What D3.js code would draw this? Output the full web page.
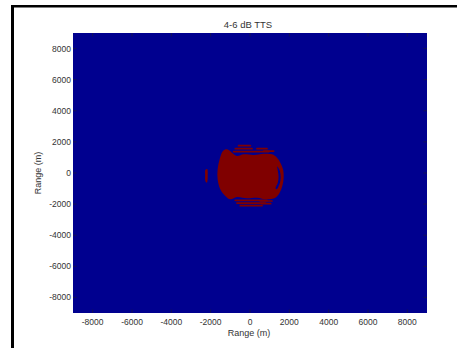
<!DOCTYPE html>
<html>
<head>
<meta charset="utf-8">
<script src="https://cdn.jsdelivr.net/npm/d3@7"></script>
<style>
    body { margin: 0; background: #fff; }
    svg { display: block; font-family: 'Liberation Sans', Arial, sans-serif; }
    .tick-label { font-size: 8.5px; fill: #333; }
    .axis-label { font-size: 9px; fill: #333; }
</style>
</head>
<body>
<svg id="chart" width="457" height="348"></svg>
<script>
    // axis ticks (m)
    const xTicks = [-8000, -6000, -4000, -2000, 0, 2000, 4000, 6000, 8000];
    const yTicks = [-8000, -6000, -4000, -2000, 0, 2000, 4000, 6000, 8000];
    const rangeExtent = [-9000, 9000];

    // main 4-6 dB TTS zone outline (x, y in m)
    const zoneOutline = [
        [-1374, 1413], [-1171, 1520], [-917, 1306], [-662, 1091], [-323, 1199],
        [185, 1156], [694, 1241], [1117, 1199], [1372, 984], [1541, 663],
        [1677, 234], [1711, -302], [1643, -837], [1507, -1266], [1287, -1587],
        [863, -1694], [355, -1587], [-154, -1630], [-662, -1545], [-1002, -1694],
        [-1256, -1480], [-1510, -1052], [-1646, -409], [-1646, 234], [-1544, 877]
    ];

    // thin gap inside the right edge of the zone
    const rightGap = [
        [1380, 420], [1500, 200], [1560, -250], [1500, -720], [1350, -1050],
        [1300, -1000], [1420, -600], [1450, -200], [1400, 250]
    ];

    // small sliver west of the zone
    const westSliver = [
        [-2270, 200], [-2180, 250], [-2150, -200], [-2190, -620], [-2260, -550], [-2280, -100]
    ];

    // streaks above and below the zone: [x start, x end, y]
    const streaks = [
        [-578, 16, 1756],
        [-747, 100, 1563],
        [355, 863, 1563],
        [-832, 948, 1370],
        [694, 1202, 1413],
        [-747, 863, -1759],
        [-662, 778, -1930],
        [-493, 609, -2102],
        [524, 1117, -1800],
        [600, 1050, -1975]
    ];

    const blue = "#00008f";
    const red = "#800000";

    const svg = d3.select("#chart");
    const x = d3.scaleLinear().domain(rangeExtent).range([73, 427]);
    const y = d3.scaleLinear().domain(rangeExtent).range([313, 33]);

    // figure frame, only top and left edges show in the picture
    svg.append("line").attr("x1", 12.5).attr("x2", 12.5).attr("y1", 5).attr("y2", 348)
        .attr("stroke", "#000").attr("stroke-width", 3);
    svg.append("line").attr("x1", 11).attr("x2", 457).attr("y1", 6.2).attr("y2", 6.2)
        .attr("stroke", "#000").attr("stroke-width", 2.5);

    svg.append("clipPath").attr("id", "plotClip")
        .append("rect").attr("x", x(-9000)).attr("y", y(9000))
        .attr("width", x(9000) - x(-9000)).attr("height", y(-9000) - y(9000));

    const plot = svg.append("g").attr("clip-path", "url(#plotClip)");
    plot.append("rect").attr("x", x(-9000)).attr("y", y(9000))
        .attr("width", x(9000) - x(-9000)).attr("height", y(-9000) - y(9000))
        .attr("fill", blue);

    const defs = svg.append("defs");
    defs.append("filter").attr("id", "soft")
        .append("feGaussianBlur").attr("stdDeviation", 0.5);

    const shape = d3.line()
        .x(d => x(d[0]))
        .y(d => y(d[1]))
        .curve(d3.curveCatmullRomClosed);

    const zone = plot.append("g").attr("filter", "url(#soft)");
    zone.append("path").attr("d", shape(zoneOutline)).attr("fill", red);
    zone.append("path").attr("d", shape(rightGap)).attr("fill", blue);
    zone.append("path").attr("d", shape(westSliver)).attr("fill", red);

    const streakWidth = y(0) - y(110);
    zone.selectAll("line.streak")
        .data(streaks)
        .enter().append("line")
        .attr("class", "streak")
        .attr("x1", d => x(d[0]))
        .attr("x2", d => x(d[1]))
        .attr("y1", d => y(d[2]))
        .attr("y2", d => y(d[2]))
        .attr("stroke", red)
        .attr("stroke-width", streakWidth)
        .attr("stroke-linecap", "round");

    // inward ticks on all four sides
    const tickLen = 3.5;
    const ticks = svg.append("g").attr("stroke", "#1a1a40").attr("stroke-width", 0.7);
    xTicks.forEach(t => {
        ticks.append("line").attr("x1", x(t)).attr("x2", x(t)).attr("y1", y(-9000)).attr("y2", y(-9000) - tickLen);
        ticks.append("line").attr("x1", x(t)).attr("x2", x(t)).attr("y1", y(9000)).attr("y2", y(9000) + tickLen);
    });
    yTicks.forEach(t => {
        ticks.append("line").attr("x1", x(-9000)).attr("x2", x(-9000) + tickLen).attr("y1", y(t)).attr("y2", y(t));
        ticks.append("line").attr("x1", x(9000)).attr("x2", x(9000) - tickLen).attr("y1", y(t)).attr("y2", y(t));
    });

    svg.selectAll("text.xtick")
        .data(xTicks)
        .enter().append("text")
        .attr("class", "tick-label xtick")
        .attr("x", d => x(d))
        .attr("y", 325)
        .attr("text-anchor", "middle")
        .text(d => d);

    svg.selectAll("text.ytick")
        .data(yTicks)
        .enter().append("text")
        .attr("class", "tick-label ytick")
        .attr("x", 71)
        .attr("y", d => y(d) + 3)
        .attr("text-anchor", "end")
        .text(d => d);

    svg.append("text").attr("class", "axis-label")
        .attr("x", x(0) - 1).attr("y", 336).attr("text-anchor", "middle")
        .text("Range (m)");

    svg.append("text").attr("class", "axis-label")
        .attr("transform", `translate(41, ${y(0)}) rotate(-90)`)
        .attr("text-anchor", "middle")
        .text("Range (m)");

    svg.append("text").attr("class", "axis-label")
        .attr("x", 248).attr("y", 27.5).attr("text-anchor", "middle")
        .style("font-size", "9.5px")
        .text("4-6 dB TTS");
</script>
</body>
</html>
